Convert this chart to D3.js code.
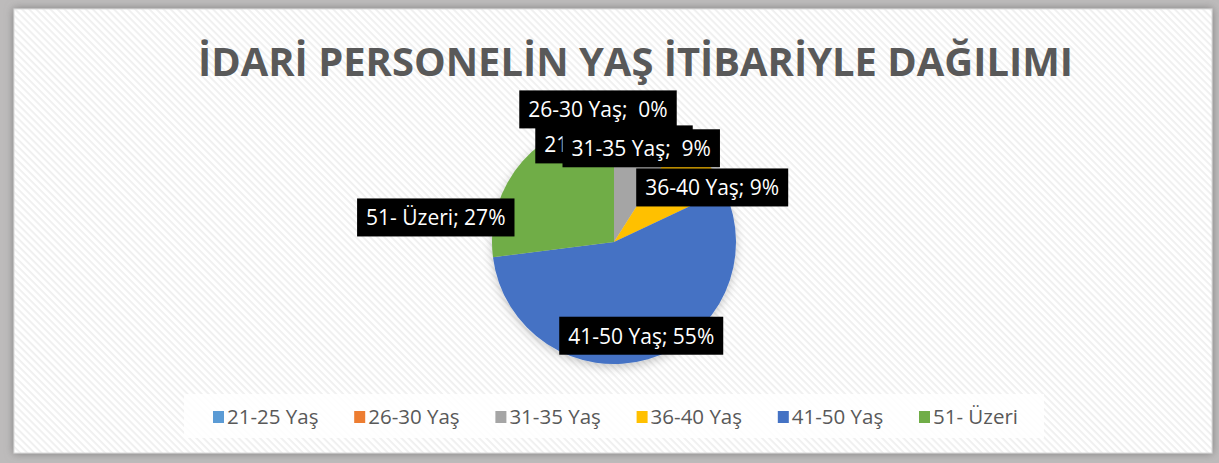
<!DOCTYPE html>
<html>
<head>
<meta charset="utf-8">
<script src="https://cdn.jsdelivr.net/npm/d3@7"></script>
<style>
  body { margin: 0; background: #bdbbbb; }
  svg { display: block; }
</style>
</head>
<body>
<script>
const w = 1219;
const h = 463;

// values
const categories = ["21-25 Yaş", "26-30 Yaş", "31-35 Yaş", "36-40 Yaş", "41-50 Yaş", "51- Üzeri"];
const percentages = [0, 0, 9, 9, 55, 27];
const dataLabels = ["21-25 Yaş;  0%", "26-30 Yaş;  0%", "31-35 Yaş;  9%", "36-40 Yaş; 9%", "41-50 Yaş; 55%", "51- Üzeri; 27%"];
const colours = ["#5b9bd5", "#ed7d31", "#a5a5a5", "#ffc000", "#4472c4", "#70ad47"];
const title = "İDARİ PERSONELİN YAŞ İTİBARİYLE DAĞILIMI";

const cx = 614, cy = 242, radius = 122;

// excel "best fit" pushed a few labels away from the slice
const labelNudge = {
    "26-30 Yaş": [-16, -35],
    "36-40 Yaş": [25, 10],
    "51- Üzeri": [-105, 40]
};

const svg = d3.select("body")
    .append("svg")
    .attr("width", w)
    .attr("height", h);

const defs = svg.append("defs");

const stripes = defs.append("pattern")
    .attr("id", "stripes")
    .attr("patternUnits", "userSpaceOnUse")
    .attr("width", 5)
    .attr("height", 5)
    .attr("patternTransform", "rotate(45)");
stripes.append("rect").attr("width", 5).attr("height", 5).attr("fill", "#ffffff");
stripes.append("rect").attr("width", 5).attr("height", 1.8).attr("fill", "#efefef");

const cardShadow = defs.append("filter").attr("id", "cardShadow")
    .attr("x", "-5%").attr("y", "-5%").attr("width", "110%").attr("height", "110%");
cardShadow.append("feDropShadow")
    .attr("dx", 0).attr("dy", 0).attr("stdDeviation", 4)
    .attr("flood-color", "#6e6e6e").attr("flood-opacity", 0.8);

const pieShadow = defs.append("filter").attr("id", "pieShadow")
    .attr("x", "-20%").attr("y", "-20%").attr("width", "140%").attr("height", "140%");
pieShadow.append("feDropShadow")
    .attr("dx", 0).attr("dy", 3).attr("stdDeviation", 5)
    .attr("flood-color", "#000").attr("flood-opacity", 0.22);

// frame + card
svg.append("rect").attr("width", w).attr("height", h).attr("fill", "#bdbbbb");
svg.append("rect")
    .attr("x", 14).attr("y", 9)
    .attr("width", 1198).attr("height", 444)
    .attr("fill", "url(#stripes)")
    .attr("stroke", "#d9d9d9")
    .attr("filter", "url(#cardShadow)");

// title
svg.append("text")
    .attr("x", 635.5)
    .attr("y", 76)
    .attr("text-anchor", "middle")
    .attr("font-family", "'Open Sans', sans-serif")
    .attr("font-weight", "bold")
    .attr("font-size", 40)
    .attr("fill", "#595959")
    .attr("textLength", 875)
    .attr("lengthAdjust", "spacingAndGlyphs")
    .text(title);

// pie
const pie = d3.pie().sort(null);
const arcs = pie(percentages);

const arc = d3.arc().innerRadius(0).outerRadius(radius);
const labelArc = d3.arc().innerRadius(radius * 0.8).outerRadius(radius * 0.8);

const pieG = svg.append("g")
    .attr("transform", "translate(" + cx + "," + cy + ")");

pieG.append("g")
    .attr("filter", "url(#pieShadow)")
    .selectAll("path")
    .data(arcs)
    .enter()
    .append("path")
    .attr("fill", function(d, i) { return colours[i]; })
    .attr("d", arc);

// data labels
const labels = pieG.selectAll("g.label")
    .data(arcs)
    .enter()
    .append("g")
    .attr("class", "label")
    .attr("transform", function(d, i) {
        const c = labelArc.centroid(d);
        const n = labelNudge[categories[i]] || [0, 0];
        return "translate(" + (c[0] + n[0]) + "," + (c[1] + n[1]) + ")";
    });

const labelRects = labels.append("rect").attr("fill", "#000");

const labelText = labels.append("text")
    .attr("text-anchor", "middle")
    .attr("y", 8)
    .attr("font-family", "'Open Sans', sans-serif")
    .attr("font-size", 21)
    .attr("fill", "#fff")
    .style("white-space", "pre")
    .text(function(d, i) { return dataLabels[i]; });

labelText.each(function(d, i) {
    const tw = this.getComputedTextLength();
    d3.select(labelRects.nodes()[i])
        .attr("x", -tw / 2 - 9)
        .attr("y", -19)
        .attr("width", tw + 18)
        .attr("height", 38);
});

// legend
svg.append("rect")
    .attr("x", 184).attr("y", 394)
    .attr("width", 860).attr("height", 44)
    .attr("fill", "#fff")
    .attr("opacity", 0.85);

const legendX = d3.scalePoint()
    .domain(categories)
    .range([213, 919]);

const legend = svg.selectAll("g.legend")
    .data(categories)
    .enter()
    .append("g")
    .attr("class", "legend")
    .attr("transform", function(d) { return "translate(" + legendX(d) + ",0)"; });

legend.append("rect")
    .attr("y", 411)
    .attr("width", 11)
    .attr("height", 12)
    .attr("fill", function(d, i) { return colours[i]; });

legend.append("text")
    .attr("x", 14)
    .attr("y", 424)
    .attr("font-family", "'Open Sans', sans-serif")
    .attr("font-size", 20.5)
    .attr("fill", "#595959")
    .text(function(d) { return d; });
</script>
</body>
</html>
